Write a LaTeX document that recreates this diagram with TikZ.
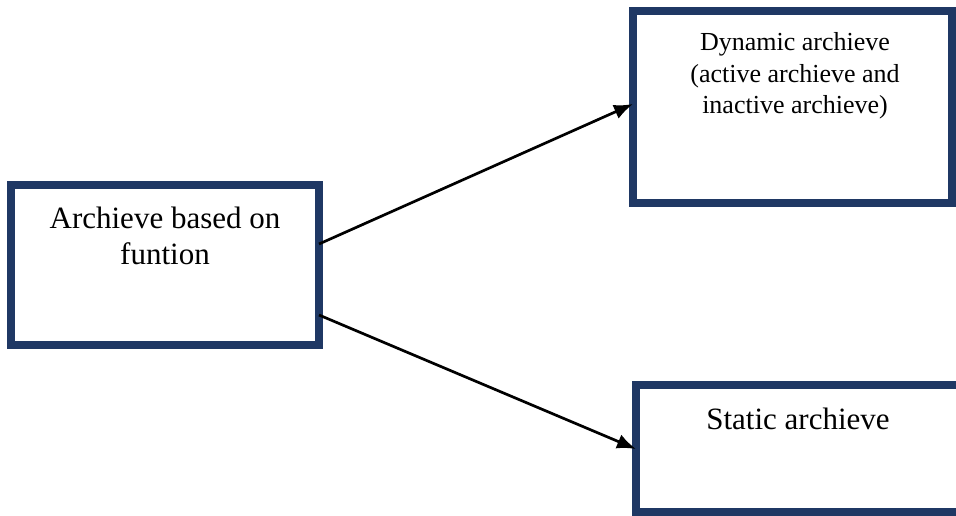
\documentclass[tikz,border=0pt]{standalone}
\usepackage{fontspec}
\setmainfont{Liberation Serif}
\usetikzlibrary{arrows.meta}
\definecolor{boxblue}{HTML}{1F3864}
\begin{document}
\begin{tikzpicture}[x=1pt,y=-1pt,
  box/.style={draw=boxblue,line width=7.5pt,rectangle,inner sep=0pt,outer sep=0pt},
  bigtxt/.style={align=center,inner sep=0pt,font=\fontsize{31}{36}\selectfont,anchor=base},
  smalltxt/.style={align=center,inner sep=0pt,font=\fontsize{26}{31.5}\selectfont,anchor=base},
  arr/.style={-{Latex[length=19pt,width=15pt]},line width=2.7pt,black}]
\clip (0,0) rectangle (956,516);
\fill[white] (0,0) rectangle (956,516);
\node[box,minimum width=308pt,minimum height=160pt] (src) at (165,265) {};
\node[box,minimum width=319pt,minimum height=192pt] (dyn) at (792.5,107) {};
\node[box,minimum width=324pt,minimum height=127pt] (sta) at (798,448.5) {};
\node[bigtxt] (srct) at (165,264) {Archieve based on\\funtion};
\node[smalltxt] (dynt) at (795,114) {Dynamic archieve\\(active archieve and\\inactive archieve)};
\node[bigtxt] (stat) at (798,429) {Static archieve};
\draw[arr] (src.east |- 0,244) -- (dyn.west |- 0,104);
\draw[arr] (src.east |- 0,315) -- (sta.west |- 0,449);
\end{tikzpicture}
\end{document}
